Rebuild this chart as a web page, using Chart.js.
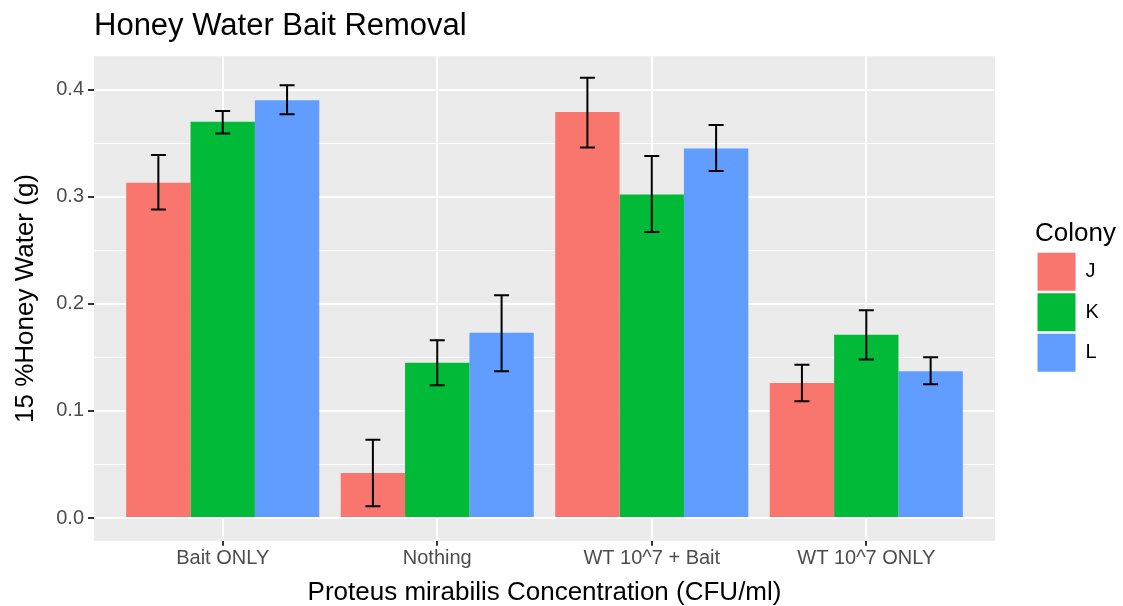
<!DOCTYPE html>
<html><head><meta charset="utf-8">
<script src="https://cdn.jsdelivr.net/npm/chart.js@4/dist/chart.umd.min.js"></script>
<style>html,body{margin:0;padding:0;background:#fff;}#wrap{width:1123px;height:606px;}</style>
</head><body><div id="wrap"><canvas id="c" width="1123" height="606"></canvas></div>
<script>
const categories = ['Bait ONLY', 'Nothing', 'WT 10^7 + Bait', 'WT 10^7 ONLY'];
const colonies = ['J', 'K', 'L'];
const valuesJ = [0.313, 0.042, 0.379, 0.126];
const valuesK = [0.370, 0.145, 0.302, 0.171];
const valuesL = [0.390, 0.173, 0.345, 0.137];
const lowJ = [0.288, 0.011, 0.346, 0.109];
const highJ = [0.339, 0.073, 0.411, 0.143];
const lowK = [0.359, 0.124, 0.267, 0.148];
const highK = [0.380, 0.166, 0.338, 0.194];
const lowL = [0.377, 0.137, 0.324, 0.125];
const highL = [0.404, 0.208, 0.367, 0.150];
const yTicks = [0, 0.05, 0.1, 0.15, 0.2, 0.25, 0.3, 0.35, 0.4];
const colors = ['#F8766D', '#00BA38', '#619CFF'];

const FONT = "'Liberation Sans', Arial, Helvetica, sans-serif";
const series = [valuesJ, valuesK, valuesL];
const lows = [lowJ, lowK, lowL];
const highs = [highJ, highK, highL];

const datasets = colonies.map((name, i) => ({
  label: name,
  data: series[i].map((v, j) => ({x: j + 1, y: v})),
  lows: lows[i], highs: highs[i],
  backgroundColor: colors[i],
  borderWidth: 0,
  categoryPercentage: 0.9,
  barPercentage: 1.0
}));

const bgPlugin = {
  id: 'panelBg',
  afterInit(chart) {
    const lg = chart.legend;
    if (lg) {
      const orig = lg.fit.bind(lg);
      lg.fit = function () { orig(); this.width = Math.max(this.width, 88); };
    }
  },
  beforeDraw(chart) {
    const {ctx, chartArea: a} = chart;
    ctx.save();
    ctx.fillStyle = '#EBEBEB';
    ctx.fillRect(a.left, a.top, a.right - a.left, a.bottom - a.top);
    ctx.restore();
  }
};

const errPlugin = {
  id: 'errBars',
  afterDatasetsDraw(chart) {
    const {ctx} = chart;
    const ys = chart.scales.y;
    ctx.save();
    ctx.strokeStyle = '#000';
    ctx.lineWidth = 2;
    chart.data.datasets.forEach((ds, i) => {
      const meta = chart.getDatasetMeta(i);
      meta.data.forEach((bar, j) => {
        const x = bar.x;
        const y1 = ys.getPixelForValue(ds.lows[j]);
        const y2 = ys.getPixelForValue(ds.highs[j]);
        const hw = 7.5;
        ctx.beginPath();
        ctx.moveTo(x, y1); ctx.lineTo(x, y2);
        ctx.moveTo(x - hw, y1); ctx.lineTo(x + hw, y1);
        ctx.moveTo(x - hw, y2); ctx.lineTo(x + hw, y2);
        ctx.stroke();
      });
    });
    ctx.restore();
  }
};

const isMajor = v => Math.abs(Math.round(v * 10) - v * 10) < 1e-6;

new Chart(document.getElementById('c'), {
  type: 'bar',
  data: {datasets},
  plugins: [bgPlugin, errPlugin],
  options: {
    responsive: false,
    animation: false,
    layout: {padding: {left: 10, right: 0, top: 4, bottom: -2}},
    plugins: {
      title: {
        display: true, text: 'Honey Water Bait Removal', align: 'start', fullSize: false,
        color: '#000', font: {family: FONT, size: 31, weight: 'normal'},
        padding: {top: 4, bottom: 11}
      },
      legend: {
        position: 'right', align: 'start',
        title: {display: true, text: 'Colony', color: '#000', position: 'start',
          font: {family: FONT, size: 26}, padding: {top: 217, bottom: -2}},
        labels: {boxWidth: 38, boxHeight: 38, padding: 2.5, color: '#000',
          font: {family: FONT, size: 20}}
      },
      tooltip: {enabled: false}
    },
    scales: {
      x: {
        type: 'linear', min: 0.4, max: 4.6, offset: false,
        afterBuildTicks(scale) { scale.ticks = categories.map((c, i) => ({value: i + 1})); },
        ticks: {
          callback: (v) => categories[Math.round(v) - 1] || '',
          color: '#4D4D4D', font: {family: FONT, size: 20}, padding: 1,
          maxRotation: 0, autoSkip: false
        },
        grid: {offset: false, color: '#FFFFFF', lineWidth: 2, tickColor: '#333333', tickLength: 5, tickWidth: 2},
        border: {display: false},
        title: {display: true, text: 'Proteus mirabilis Concentration (CFU/ml)', color: '#000',
          font: {family: FONT, size: 26}, padding: {top: 5, bottom: 0}}
      },
      y: {
        min: -0.0212, max: 0.4311,
        afterBuildTicks(scale) { scale.ticks = yTicks.map(v => ({value: v})); },
        ticks: {
          callback: (v) => isMajor(v) ? v.toFixed(1) : '',
          color: '#4D4D4D', font: {family: FONT, size: 20}, padding: 4, autoSkip: false
        },
        grid: {
          color: '#FFFFFF',
          lineWidth: (c) => isMajor(c.tick.value) ? 2 : 1,
          tickColor: (c) => isMajor(c.tick.value) ? '#333333' : 'rgba(0,0,0,0)',
          tickLength: 6, tickWidth: 2
        },
        border: {display: false},
        title: {display: true, text: '15 %Honey Water (g)', color: '#000',
          font: {family: FONT, size: 26}, padding: {top: 0, bottom: 11}}
      },
      gap: {
        position: 'right', min: 0, max: 1,
        display: true,
        ticks: {display: false},
        grid: {display: false, drawTicks: false},
        border: {display: false},
        afterFit(scale) { scale.width = 40; }
      }
    }
  }
});
</script></body></html>
